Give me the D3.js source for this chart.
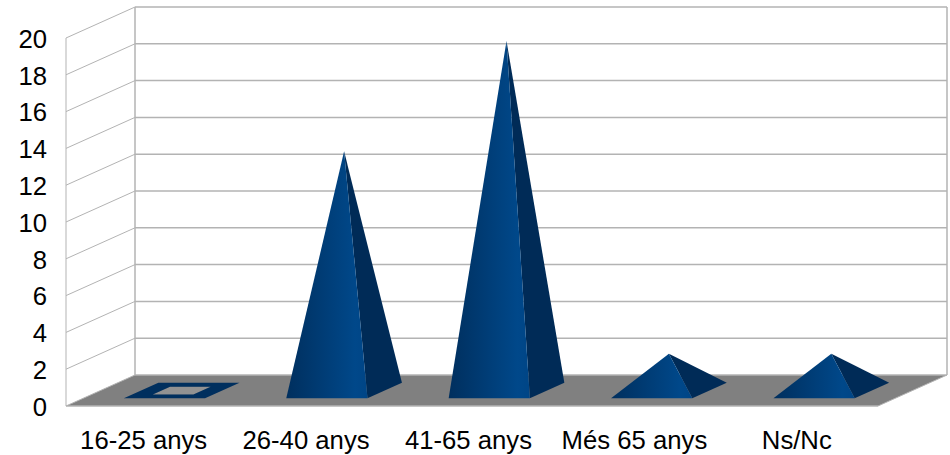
<!DOCTYPE html>
<html>
<head>
<meta charset="utf-8">
<script src="https://cdn.jsdelivr.net/npm/d3@7"></script>
<style>
  html, body { margin: 0; padding: 0; background: #fff; }
  svg { display: block; }
  text { font-family: "Liberation Sans", sans-serif; font-size: 25.7px; fill: #000; white-space: pre; }
</style>
</head>
<body>
<svg id="chart"></svg>
<script>
// Respostes per franja d'edat - piramides 3D
const categories = ["16-25 anys ", "26-40 anys ", "41-65 anys ", "Més 65 anys", "Ns/Nc"];
const values = [0, 13, 19, 2, 2];
const yTicks = [0, 2, 4, 6, 8, 10, 12, 14, 16, 18, 20];

const width = 950;
const height = 455;
const plot = { left: 66, right: 878, top: 38, bottom: 406 };
const depth = { x: 69, y: -31 };
const gridColor = "#b3b3b3";

const svg = d3.select("#chart").attr("width", width).attr("height", height);

const x = d3.scaleBand().domain(categories).range([plot.left, plot.right]);
const y = d3.scaleLinear().domain([0, 20]).range([plot.bottom, plot.top]);

// project a point: position on the front plane + fraction of the depth
const pt = function (px, py, d) { return [px + depth.x * d, py + depth.y * d]; };
const poly = function (points) { return "M" + points.map(function (p) { return p.join(","); }).join("L") + "Z"; };

const defs = svg.append("defs");
const grad = defs.append("linearGradient").attr("id", "frontFace");
grad.append("stop").attr("offset", "0%").attr("stop-color", "#002f5e");
grad.append("stop").attr("offset", "85%").attr("stop-color", "#00488a");
grad.append("stop").attr("offset", "100%").attr("stop-color", "#004586");

// floor
svg.append("path")
    .attr("d", poly([pt(plot.left, plot.bottom, 0), pt(plot.right, plot.bottom, 0), pt(plot.right, plot.bottom, 1), pt(plot.left, plot.bottom, 1)]))
    .attr("fill", "#808080");

// walls
const grid = svg.append("g").attr("fill", "none").attr("stroke", gridColor);
const wallLine = function (a, b, w) {
    grid.append("line").attr("x1", a[0]).attr("y1", a[1]).attr("x2", b[0]).attr("y2", b[1]).attr("stroke-width", w);
};
yTicks.forEach(function (t) {
    wallLine(pt(plot.left, y(t), 0), pt(plot.left, y(t), 1), 1);
    wallLine(pt(plot.left, y(t), 1), pt(plot.right, y(t), 1), 1.5);
});
wallLine(pt(plot.left, y(0), 0), pt(plot.left, y(20), 0), 1);
wallLine(pt(plot.left, y(0), 0), pt(plot.right, y(0), 0), 1.5);
wallLine(pt(plot.right, y(0), 0), pt(plot.right, y(0), 1), 1);
[plot.left, plot.right].forEach(function (px) {
    wallLine(pt(px, y(0), 1), pt(px, y(20), 1), 1.5);
});

// pyramids: half a band wide, sitting in the middle half of the depth
const bars = svg.append("g");
categories.forEach(function (c, i) {
    const v = values[i];
    const left = x(c) + x.bandwidth() / 4;
    const right = x(c) + x.bandwidth() * 3 / 4;
    const fl = pt(left, y(0), 0.25);
    const fr = pt(right, y(0), 0.25);
    const br = pt(right, y(0), 0.75);
    const bl = pt(left, y(0), 0.75);
    if (v === 0) {
        // flat base with an open centre
        const mid = x(c) + x.bandwidth() / 2;
        const q = x.bandwidth() / 8;
        const hole = [pt(mid - q, y(0), 0.375), pt(mid + q, y(0), 0.375), pt(mid + q, y(0), 0.625), pt(mid - q, y(0), 0.625)];
        bars.append("path").attr("d", poly(hole)).attr("fill", "#929292");
        bars.append("path")
            .attr("d", poly([fl, fr, br, bl]) + poly(hole))
            .attr("fill", "#002f5e")
            .attr("fill-rule", "evenodd");
        return;
    }
    const apex = pt(x(c) + x.bandwidth() / 2, y(v), 0.5);
    bars.append("path").attr("d", poly([fr, br, apex])).attr("fill", "#002b57");
    bars.append("path").attr("d", poly([fl, fr, apex])).attr("fill", "url(#frontFace)");
});

// axes
const yAxis = d3.axisLeft(y).tickValues(yTicks).tickSize(0).tickPadding(0);
svg.append("g")
    .attr("transform", "translate(47,0)")
    .call(yAxis)
    .attr("font-size", null)
    .attr("font-family", null)
    .call(function (g) { g.select(".domain").remove(); })
    .call(function (g) { g.selectAll("text").attr("dy", "0.36em"); });

const xAxis = d3.axisBottom(x).tickSize(0).tickPadding(0);
svg.append("g")
    .attr("transform", "translate(0,431)")
    .call(xAxis)
    .attr("font-size", null)
    .attr("font-family", null)
    .call(function (g) { g.select(".domain").remove(); })
    .call(function (g) { g.selectAll("text").attr("dy", "0.71em"); });
</script>
</body>
</html>
